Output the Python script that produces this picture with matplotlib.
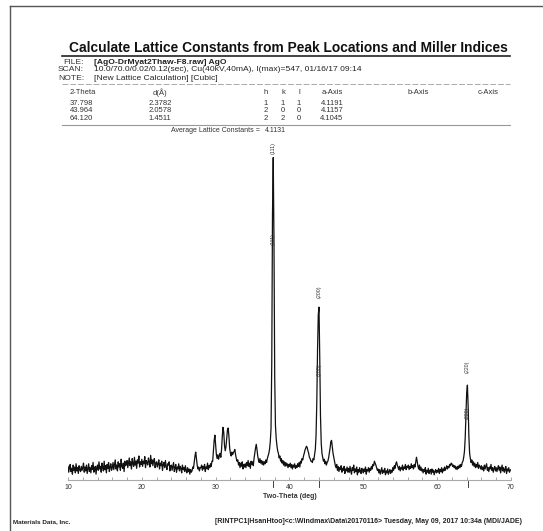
import matplotlib
matplotlib.use('Agg')
import matplotlib.pyplot as plt
from matplotlib.lines import Line2D
import numpy as np

plt.rcParams['font.family'] = ['Liberation Sans', 'DejaVu Sans']

# scan grid 10-70 deg, values every 0.1 deg
two_theta = np.linspace(10.0, 70.0, 601)

counts_10_40 = [
    72, 63, 70, 75, 64, 69, 60, 74, 66, 71, 62, 76, 65, 70, 61, 73, 67, 64, 72, 66,
    70, 77, 63, 71, 65, 74, 61, 68, 76, 64, 70, 62, 73, 67, 78, 63, 69, 72, 60, 71,
    74, 66, 79, 68, 72, 63, 77, 70, 65, 80, 67, 73, 62, 75, 69, 78, 64, 71, 76, 66,
    70, 78, 67, 75, 82, 68, 74, 65, 79, 71, 76, 66, 83, 72, 69, 77, 64, 80, 73, 75,
    81, 70, 78, 85, 73, 79, 68, 84, 76, 72, 86, 74, 80, 69, 82, 77, 88, 71, 79, 75,
    83, 72, 80, 76, 87, 70, 81, 78, 74, 85, 79, 71, 89, 76, 82, 73, 80, 84, 70, 77,
    79, 71, 76, 82, 68, 77, 73, 80, 66, 75, 78, 70, 81, 72, 67, 76, 74, 79, 65, 73,
    74, 66, 72, 78, 64, 70, 75, 63, 71, 68, 76, 65, 72, 69, 62, 74, 67, 70, 64, 73,
    66, 62, 70, 64, 68, 60, 67, 63, 65, 71, 69, 78, 88, 94, 84, 74, 68, 71, 65, 70,
    70, 74, 66, 72, 68, 75, 64, 71, 69, 77, 67, 73, 70, 76, 72, 80, 80, 95, 112, 120,
    106, 90, 84, 90, 83, 88, 92, 86, 98, 118, 132, 124, 104, 96, 102, 115, 128, 131, 118, 100,
    92, 88, 94, 90, 93, 95, 98, 90, 84, 80, 82, 74, 78, 70, 77, 72, 79, 68, 75, 71,
    76, 70, 78, 73, 81, 72, 77, 69, 80, 75, 79, 73, 84, 92, 100, 106, 98, 88, 82, 78,
    84, 77, 81, 75, 80, 74, 79, 76, 82, 78, 84, 88, 92, 98, 110, 130, 230, 460, 547, 420,
    210, 135, 115, 104, 96, 92, 85, 88, 80, 84, 77, 81, 74, 79, 72, 78, 73, 76, 70, 75,
]
counts_40_70 = [
    72, 77, 70, 75, 68, 74, 71, 76, 69, 73, 70, 76, 72, 78, 71, 80, 77, 84, 82, 88,
    92, 97, 100, 103, 101, 96, 92, 86, 84, 80, 80, 78, 84, 82, 90, 98, 120, 170, 250, 305,
    317, 240, 150, 108, 92, 86, 80, 83, 76, 80, 74, 78, 80, 85, 92, 100, 110, 112, 102, 92,
    86, 80, 74, 70, 75, 66, 72, 64, 70, 67, 73, 63, 69, 66, 72, 61, 68, 65, 71, 63,
    69, 63, 72, 65, 60, 70, 66, 74, 62, 68, 64, 71, 59, 67, 63, 70, 65, 61, 69, 66,
    62, 68, 64, 71, 60, 67, 65, 70, 63, 69, 66, 72, 68, 75, 73, 80, 77, 74, 70, 66,
    68, 62, 67, 60, 65, 70, 61, 66, 63, 69, 59, 65, 62, 68, 60, 64, 67, 61, 66, 63,
    70, 66, 73, 69, 76, 79, 74, 71, 67, 72, 65, 70, 68, 74, 66, 71, 69, 75, 67, 72,
    70, 74, 67, 72, 69, 76, 70, 73, 68, 75, 71, 78, 86, 80, 72, 68, 74, 66, 71, 65,
    68, 62, 67, 64, 70, 60, 66, 63, 69, 61, 65, 67, 60, 68, 63, 66, 59, 64, 67, 62,
    66, 63, 69, 61, 67, 64, 70, 62, 68, 65, 71, 66, 69, 73, 68, 72, 70, 75, 73, 77,
    76, 72, 74, 70, 73, 68, 71, 67, 72, 69, 74, 70, 75, 72, 78, 80, 86, 95, 115, 150,
    185, 197, 165, 118, 92, 84, 78, 82, 74, 79, 72, 77, 70, 75, 71, 78, 69, 74, 72, 68,
    73, 67, 71, 65, 74, 68, 72, 76, 66, 70, 64, 71, 68, 75, 66, 70, 63, 69, 72, 65,
    70, 64, 69, 73, 66, 71, 62, 68, 74, 65, 70, 63, 67, 72, 61, 68, 65, 70, 63, 66,
    67,
]
counts = np.array(counts_10_40 + counts_40_70)

# lattice table
peak_2theta = [37.798, 43.964, 64.120]
peak_d = ['2.3782', '2.0578', '1.4511']
peak_hkl = [(1, 1, 1), (2, 0, 0), (2, 2, 0)]
a_axis = ['4.1191', '4.1157', '4.1045']
avg_lattice = '4.1131'
peak_labels = ['(111)', '(200)', '(220)']
label_top = [553, 331, 216]     # counts where upper label sits
label_low = [421, 220, 155]     # counts where second label sits

fig = plt.figure(figsize=(5.43, 5.31), dpi=100)
fig.patch.set_facecolor('white')

# page border (scan edge)
fig.add_artist(Line2D([0.0184, 0.0184], [0.0, 0.9887], color='#555555', lw=1.0))
fig.add_artist(Line2D([0.0184, 1.0], [0.9887, 0.9887], color='#555555', lw=1.0))

# title block
fig.text(0.127, 0.9096, 'Calculate Lattice Constants from Peak Locations and Miller Indices',
         fontsize=9.9, fontweight='bold', va='center', ha='left', color='#111111')
fig.add_artist(Line2D([0.114, 0.939], [0.8936, 0.8936], color='#222222', lw=1.2))

hdr = [('FILE:', '[AgO-DrMyat2Thaw-F8.raw] AgO', 'bold', 0.8832),
       ('SCAN:', '10.0/70.0/0.02/0.12(sec), Cu(40kV,40mA), I(max)=547, 01/16/17 09:14', 'normal', 0.8682),
       ('NOTE:', '[New Lattice Calculation] [Cubic]', 'normal', 0.8531)]
for lab, val, w, y in hdr:
    fig.text(0.1547, y, lab, fontsize=6.1, ha='right', va='center', color='#333333')
    fig.text(0.1731, y, val, fontsize=6.1, ha='left', va='center', color='#222222', fontweight=w)

fig.add_artist(Line2D([0.114, 0.939], [0.8409, 0.8409], color='#aaaaaa', lw=0.7, ls=(0, (6, 2))))

col_x = [0.1289, 0.2947, 0.4899, 0.5212, 0.5506, 0.6114, 0.7698, 0.8987]
heads = ['2-Theta', 'd(\u00c5)', 'h', 'k', 'l', 'a-Axis', 'b-Axis', 'c-Axis']
row_y = [0.8060, 0.7910, 0.7759]
tkw = dict(fontsize=5.5, va='center', color='#333333')
for i, h in enumerate(heads):
    fig.text(col_x[i], 0.8249, h, ha='left' if i == 0 else 'center', **tkw)
for r in range(3):
    y = row_y[r]
    fig.text(col_x[0], y, f'{peak_2theta[r]:.3f}', ha='left', **tkw)
    fig.text(col_x[1], y, peak_d[r], ha='center', **tkw)
    for j in range(3):
        fig.text(col_x[2 + j], y, str(peak_hkl[r][j]), ha='center', **tkw)
    fig.text(col_x[5], y, a_axis[r], ha='center', **tkw)

fig.add_artist(Line2D([0.114, 0.939], [0.7655, 0.7655], color='#999999', lw=0.8))
fig.text(0.4788, 0.7533, 'Average Lattice Constants =', ha='right', fontsize=5,
         va='center', color='#333333')
fig.text(0.488, 0.7533, avg_lattice, ha='left', fontsize=5, va='center', color='#333333')

# pattern
ax = fig.add_axes([0.1252, 0.0960, 0.8158, 0.6403])
ax.plot(two_theta, counts, color='#111111', lw=0.9)
ax.set_xlim(10, 70)
ax.set_ylim(51, 574)
for s in ['top', 'left', 'right']:
    ax.spines[s].set_visible(False)
ax.spines['bottom'].set_color('#aaaaaa')
ax.spines['bottom'].set_linewidth(0.8)
ax.set_yticks([])
ax.set_xticks(range(10, 71, 10))
ax.set_xticks(range(10, 71, 2), minor=True)
ax.tick_params(axis='x', which='both', direction='in', length=2, width=0.6,
               colors='#999999', labelsize=5, labelcolor='#333333', pad=3)
ax.set_xlabel('Two-Theta (deg)', fontsize=5, fontweight='bold', color='#333333', labelpad=1)

for x, lab, yt, yl in zip(peak_2theta, peak_labels, label_top, label_low):
    ax.text(x, yt, lab, rotation=90, fontsize=3.8, ha='center', va='bottom', color='#333333')
    ax.text(x, yl, lab, rotation=90, fontsize=3.8, ha='center', va='center', color='#333333')
    ax.plot([x, x], [51, 40], color='#444444', lw=0.7, clip_on=False)

# footer
fig.text(0.024, 0.017, 'Materials Data, Inc.', fontsize=4.6, ha='left', va='center',
         color='#222222', fontweight='bold')
fig.text(0.396, 0.017,
         '[RINTPC1|HsanHtoo]<c:\\Windmax\\Data\\20170116> Tuesday, May 09, 2017 10:34a (MDI/JADE)',
         fontsize=5.0, ha='left', va='center', color='#222222', fontweight='bold')

fig.savefig('out.png', dpi=100)
